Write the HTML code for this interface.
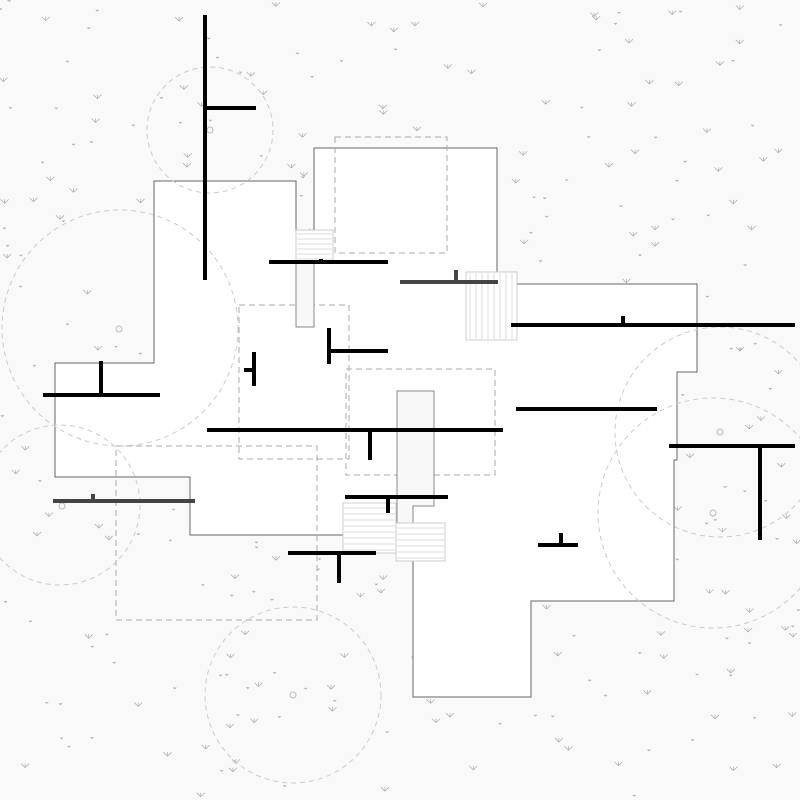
<!DOCTYPE html>
<html><head><meta charset="utf-8"><style>html,body{margin:0;padding:0;background:#f9f9f9}svg{display:block}</style></head>
<body>
<svg id="s" width="800" height="800" viewBox="0 0 800 800" xmlns="http://www.w3.org/2000/svg">
<rect width="800" height="800" fill="#f9f9f9"/>
<g id="tufts" stroke="#aaa" stroke-width="0.7" fill="none"></g>
<polygon points="154,181 296,181 296,230 314,230 314,148 497,148 497,272 517,272 517,284 697,284 697,372 677,372 677,460 674,460 674,601 531,601 531,697 413,697 413,560 396,560 396,553 343,553 343,535 190,535 190,477 55,477 55,363 154,363" fill="#fff" stroke="#666" stroke-width="1"/>
<g fill="none" stroke="#ccc" stroke-width="1" stroke-dasharray="5,4">
<circle cx="210" cy="130" r="63"/>
<circle cx="120" cy="328" r="118"/>
<circle cx="60" cy="505" r="80"/>
<circle cx="293" cy="695" r="88"/>
<circle cx="720" cy="432" r="105"/>
<circle cx="713" cy="513" r="115"/>
</g>
<g fill="none" stroke="#bbb" stroke-width="1">
<circle cx="210" cy="130" r="3"/><circle cx="119" cy="329" r="3"/><circle cx="720" cy="432" r="3"/><circle cx="713" cy="513" r="3"/><circle cx="293" cy="695" r="3"/><circle cx="62" cy="506" r="3"/>
</g>
<g fill="none" stroke="#aaa" stroke-width="1" stroke-dasharray="6,4">
<rect x="335" y="137" width="112" height="116"/>
<rect x="239" y="305" width="110" height="154"/>
<rect x="346" y="369" width="149" height="106"/>
<rect x="116" y="446" width="201" height="174"/>
</g>
<rect x="296" y="262" width="18" height="65" fill="#f8f8f8" stroke="#888"/>
<polygon points="397,391 434,391 434,506 413,506 413,523 397,523" fill="#f8f8f8" stroke="#888"/>
<g stroke="#ccc" stroke-width="1" fill="#fff">
<rect x="296" y="230" width="37" height="32"/>
<rect x="466" y="272" width="51" height="68"/>
<rect x="343" y="503" width="53" height="50"/>
<rect x="396" y="523" width="49" height="38"/>
</g>
<g stroke="#ddd" stroke-width="1" id="hatch"></g>
<g stroke="#000" stroke-width="4" fill="none">
<line x1="205" y1="15" x2="205" y2="280"/><line x1="205" y1="108" x2="256" y2="108"/>
<line x1="269" y1="262" x2="388" y2="262"/><line x1="321" y1="259" x2="321" y2="262"/>
<line x1="511" y1="325" x2="795" y2="325"/><line x1="623" y1="316" x2="623" y2="325"/>
<line x1="329" y1="328" x2="329" y2="364"/><line x1="329" y1="351" x2="388" y2="351"/>
<line x1="254" y1="352" x2="254" y2="386"/><line x1="244" y1="370" x2="254" y2="370"/>
<line x1="43" y1="395" x2="160" y2="395"/><line x1="101" y1="361" x2="101" y2="395"/>
<line x1="207" y1="430" x2="503" y2="430"/><line x1="370" y1="430" x2="370" y2="460"/>
<line x1="516" y1="409" x2="657" y2="409"/>
<line x1="669" y1="446" x2="795" y2="446"/><line x1="760" y1="446" x2="760" y2="540"/>
<line x1="345" y1="497" x2="448" y2="497"/><line x1="388" y1="497" x2="388" y2="513"/>
<line x1="288" y1="553" x2="376" y2="553"/><line x1="339" y1="553" x2="339" y2="583"/>
<line x1="538" y1="545" x2="578" y2="545"/><line x1="561" y1="533" x2="561" y2="545"/>
</g>
<g stroke="#444" stroke-width="4">
<line x1="400" y1="282" x2="498" y2="282"/><line x1="456" y1="270" x2="456" y2="282"/>
<line x1="53" y1="501" x2="195" y2="501"/><line x1="93" y1="494" x2="93" y2="501"/>
</g>
</svg>
<script>
(function(){
var ns="http://www.w3.org/2000/svg",g=document.getElementById("tufts"),h=document.getElementById("hatch");
function ln(p,a,b,c,d){var l=document.createElementNS(ns,"line");l.setAttribute("x1",a);l.setAttribute("y1",b);l.setAttribute("x2",c);l.setAttribute("y2",d);p.appendChild(l);}
var s=12345;function r(){s=(s*1103515245+12345)%2147483648;return s/2147483648;}
for(var i=0;i<380;i++){var x=r()*800,y=r()*800,k=r()<0.5?1.5:4;
ln(g,x-k,y-k,x,y);ln(g,x+k,y-k,x,y);ln(g,x,y-k,x,y);}
for(var y=234;y<262;y+=5)ln(h,297,y,332,y);
for(var x=470;x<517;x+=6)ln(h,x,273,x,339);
for(var y=508;y<553;y+=6)ln(h,344,y,395,y);
for(var y=528;y<561;y+=6)ln(h,397,y,444,y);
})();
</script>
</body></html>
